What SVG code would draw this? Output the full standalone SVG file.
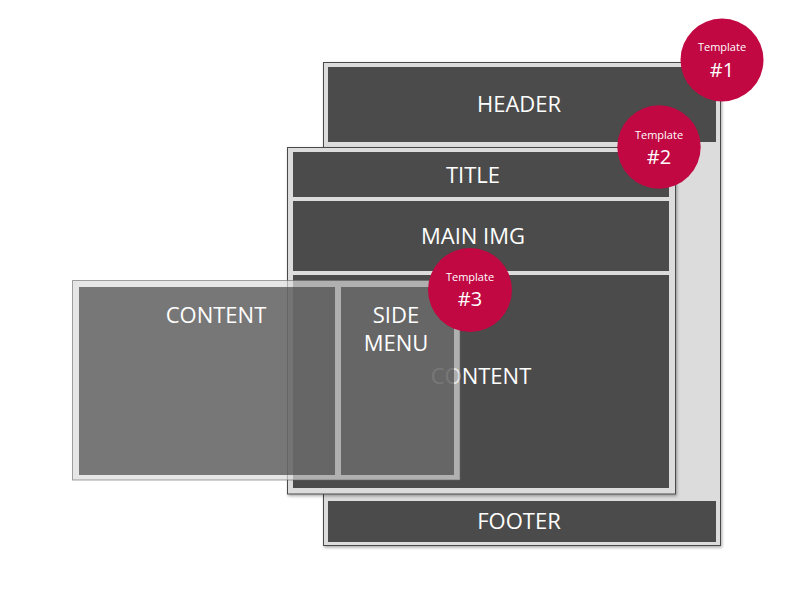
<svg xmlns="http://www.w3.org/2000/svg" width="788" height="600" viewBox="0 0 788 600">
<defs>
<filter id="sh" x="-5%" y="-5%" width="115%" height="115%">
<feDropShadow dx="1" dy="1.5" stdDeviation="1.5" flood-color="#000" flood-opacity="0.35"/>
</filter>
</defs>
<style>
.frame{fill:#dcdcdc;stroke:#4a4a4a;stroke-width:1}
.blk{fill:#4b4b4b}
.lbl{font-family:"Open Sans","Noto Sans",sans-serif;font-size:22px;fill:#fff;text-anchor:middle}
.badge{fill:#c10842}
.bt{font-family:"Open Sans","Noto Sans",sans-serif;fill:#fff;text-anchor:middle}
.small{font-size:11px}
.num{font-size:20px}
.t3c{fill:#696969;fill-opacity:0.906}
</style>
<rect width="788" height="600" fill="#fff"/>
<g id="template1">
<rect class="frame" x="323.5" y="62.5" width="397" height="483" filter="url(#sh)"/>
<rect class="blk" x="328" y="67" width="388" height="75"/>
<text class="lbl" x="519" y="111.5">HEADER</text>
<rect class="blk" x="328" y="501" width="388" height="41"/>
<text class="lbl" x="519" y="529">FOOTER</text>
</g>
<g id="badge1">
<circle class="badge" cx="722" cy="60" r="41.5"/>
<text class="bt small" x="722" y="51">Template</text>
<text class="bt num" x="722" y="77">#1</text>
</g>
<g id="template2">
<rect class="frame" x="287.5" y="147.5" width="388" height="346.5" filter="url(#sh)"/>
<rect class="blk" x="293" y="152" width="376" height="45"/>
<text class="lbl" x="473" y="182.5">TITLE</text>
<rect class="blk" x="293" y="201" width="376" height="70"/>
<text class="lbl" x="473" y="244">MAIN IMG</text>
<rect class="blk" x="293" y="275" width="376" height="213"/>
<text class="lbl" x="481" y="384">CONTENT</text>
</g>
<g id="badge2">
<circle class="badge" cx="659" cy="147" r="41.7"/>
<text class="bt small" x="659" y="138.5">Template</text>
<text class="bt num" x="659" y="164">#2</text>
</g>
<g id="template3">
<path d="M72.5 280.5H460V480H72.5Z M79 287V475H335V287Z M341 287V475H454V287Z" fill="#dbdbdb" fill-opacity="0.7" fill-rule="evenodd"/>
<rect x="72.5" y="280.5" width="387.5" height="199.5" fill="none" stroke="#666" stroke-opacity="0.6" stroke-width="1"/>
<rect class="t3c" x="79" y="287" width="256" height="188"/>
<rect class="t3c" x="341" y="287" width="113" height="188"/>
<text class="lbl" x="216" y="322.5">CONTENT</text>
<text class="lbl" x="396" y="322.5">SIDE</text>
<text class="lbl" x="396" y="351">MENU</text>
</g>
<g id="badge3">
<circle class="badge" cx="470" cy="290" r="42"/>
<text class="bt small" x="470" y="281">Template</text>
<text class="bt num" x="470" y="306">#3</text>
</g>
</svg>
